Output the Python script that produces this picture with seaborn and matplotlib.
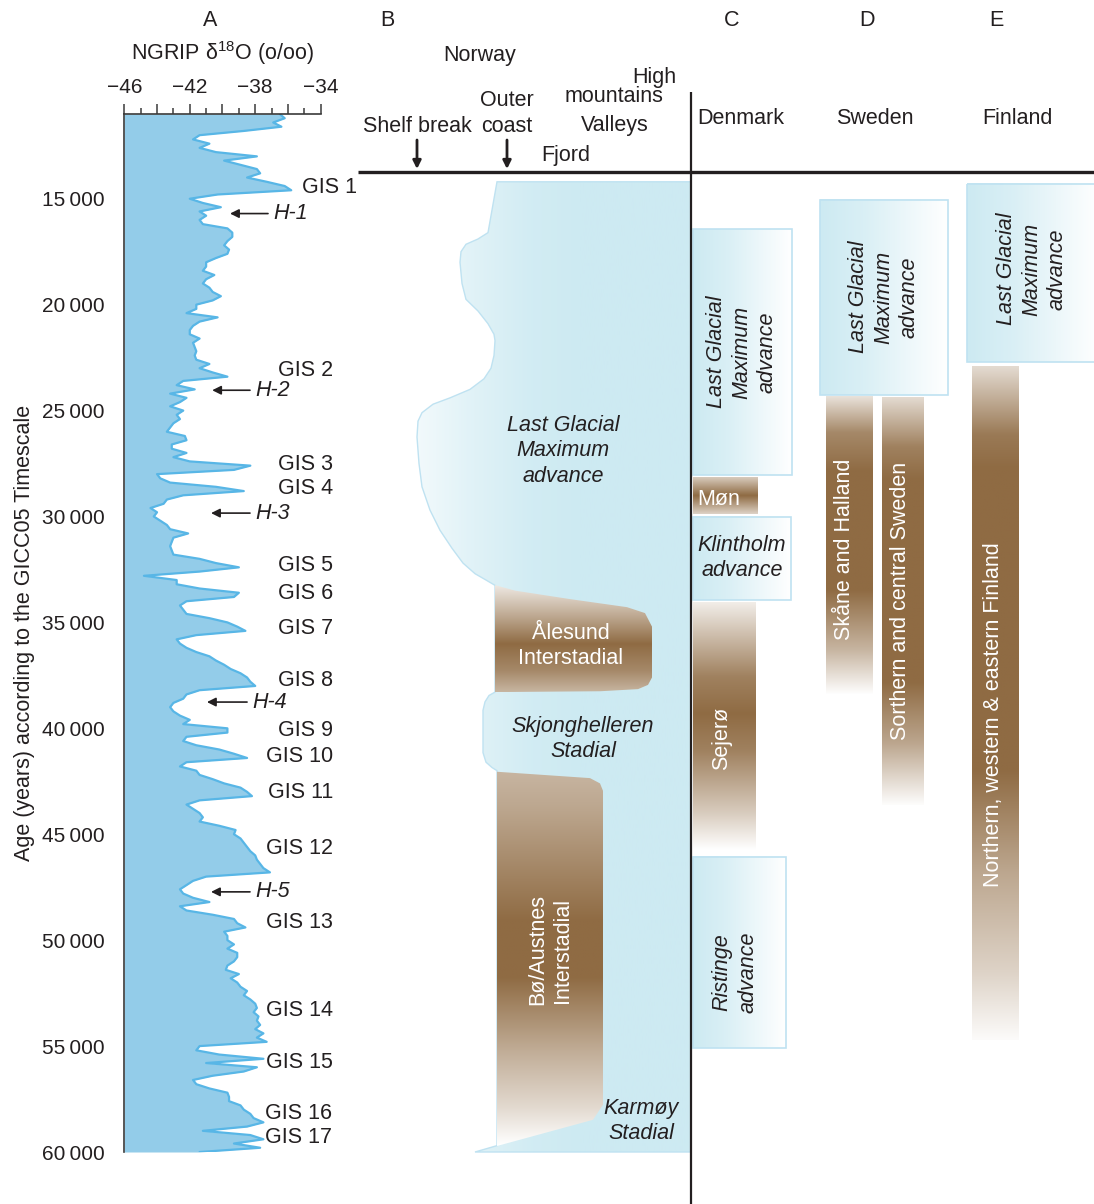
import numpy as np
import pandas as pd
import matplotlib
matplotlib.use("Agg")
import matplotlib.pyplot as plt
import seaborn as sns
from matplotlib.patches import Polygon, Rectangle
from matplotlib.colors import to_rgb
from matplotlib.ticker import FixedLocator, FixedFormatter

sns.set_theme(style="white")
plt.rcParams["font.family"] = ["Liberation Sans", "DejaVu Sans"]
plt.rcParams["mathtext.fontset"] = "custom"
plt.rcParams["mathtext.rm"] = "Liberation Sans"
plt.rcParams["mathtext.it"] = "Liberation Sans:italic"

# ---------------------------------------------------------------- data
# NGRIP d18O (per mil), 200-year samples from 11 000 to 60 000 yr b2k
age_b2k = np.arange(11000, 60001, 200)
d18o = [
    -36.5, -36.2, -36.9, -36.4, -38.7, -41.4, -41.8, -40.8, -41.4, -40.4,
    -37.9, -39.9, -38.9, -37.9, -37.7, -38.5, -37.3, -36.2, -35.8, -40.3,
    -42.0, -41.2, -40.1, -41.4, -41.0, -41.4, -41.2, -39.7, -39.4, -39.4,
    -39.7, -39.9, -39.6, -39.7, -40.4, -41.0, -41.0, -41.2, -40.5, -41.0,
    -41.2, -40.8, -40.6, -40.1, -40.6, -41.6, -41.6, -42.2, -40.3, -41.4,
    -41.8, -42.0, -42.0, -41.4, -41.8, -41.7, -41.6, -41.7, -41.6, -40.8,
    -41.4, -40.6, -39.7, -42.4, -42.8, -41.7, -43.2, -42.2, -42.6, -43.2,
    -42.4, -42.8, -42.6, -43.0, -43.2, -43.4, -42.3, -42.2, -43.1, -43.1,
    -42.2, -43.0, -42.0, -38.3, -39.3, -44.0, -43.8, -43.2, -40.4, -38.7,
    -42.4, -43.4, -43.6, -44.4, -44.0, -44.2, -43.8, -43.4, -43.2, -42.1,
    -43.0, -43.1, -43.2, -43.1, -43.0, -41.4, -40.4, -39.0, -41.4, -44.8,
    -42.8, -42.8, -41.4, -39.0, -39.3, -42.2, -42.6, -42.4, -42.2, -40.8,
    -39.7, -39.1, -38.6, -41.6, -42.8, -42.6, -42.2, -41.6, -40.8, -40.4,
    -39.9, -39.5, -38.9, -38.5, -38.3, -38.0, -41.4, -42.2, -42.4, -43.0,
    -43.2, -43.0, -42.6, -42.0, -42.4, -39.7, -39.7, -42.2, -42.4, -41.6,
    -40.2, -39.3, -38.5, -42.2, -42.6, -41.6, -41.4, -40.6, -39.9, -38.9,
    -38.5, -38.2, -41.4, -42.2, -41.8, -41.4, -41.2, -41.4, -40.2, -39.2,
    -39.3, -38.9, -38.7, -38.5, -38.3, -38.0, -37.9, -37.7, -37.5, -37.1,
    -41.0, -41.8, -42.2, -42.6, -42.4, -41.8, -40.8, -42.6, -42.2, -40.6,
    -39.3, -39.1, -38.6, -39.9, -39.7, -39.7, -39.3, -39.7, -39.1, -39.1,
    -39.3, -39.7, -39.8, -39.0, -39.5, -39.1, -38.9, -38.5, -38.7, -38.3,
    -38.0, -37.9, -38.1, -37.8, -37.9, -37.7, -38.0, -37.5, -37.9, -37.3,
    -41.4, -41.6, -40.2, -37.5, -41.0, -37.9, -38.7, -40.6, -41.8, -41.6,
    -40.8, -39.7, -39.6, -39.6, -38.9, -38.7, -38.3, -38.1, -37.5, -38.5,
    -41.2, -38.3, -37.5, -39.3, -37.7, -41.4,
]

# Greenland interstadials
gis_labels = ["GIS 1", "GIS 2", "GIS 3", "GIS 4", "GIS 5", "GIS 6", "GIS 7",
              "GIS 8", "GIS 9", "GIS 10", "GIS 11", "GIS 12", "GIS 13",
              "GIS 14", "GIS 15", "GIS 16", "GIS 17"]
gis_ages = [14470, 23100, 27530, 28670, 32300, 33620, 35270, 37720, 40080,
            41310, 43050, 45650, 49180, 53340, 55790, 58190, 59330]
gis_label_x = [-31.8] + [-33.25] * 14 + [-33.3, -33.3]

# Heinrich events
heinrich_labels = ["H-1", "H-2", "H-3", "H-4", "H-5"]
heinrich_ages = [15700, 24040, 29840, 38760, 47720]
heinrich_head = [-39.54, -40.63, -40.70, -40.95, -40.70]
heinrich_tail = [-37.22, -38.32, -38.32, -38.50, -38.32]

# Norway transect: ice-margin position (panel units) through time
norway_margin_age = [14200, 16600, 16900, 17150, 17500, 18000, 19000, 19750,
                     20300, 20900, 21400, 21700, 22400, 23000, 23500, 24000,
                     24400, 24700, 25100, 25500, 26250, 27500, 28600, 29700,
                     30650, 31500, 32200, 32700, 33000, 33250, 38290, 38450,
                     38750, 39150, 41150, 41600, 41850, 42000, 59700, 60000]
norway_margin_pos = [497, 488, 478, 466, 461, 460, 462, 466,
                     478, 488, 494, 495, 494, 491, 484, 470,
                     450, 433, 422, 418, 417, 419, 422, 430,
                     440, 452, 463, 475, 486, 495, 495, 489,
                     485, 483, 483, 486, 492, 497, 497, 475]
alesund_age = [33240, 33500, 33900, 34280, 34560, 35200, 37600, 37950, 38150, 38250, 38290]
alesund_pos = [495, 515, 570, 627, 645, 652, 652, 648, 638, 600, 495]
bo_age = [42050, 42350, 42600, 42950, 57770, 58480, 59716]
bo_pos = [497, 590, 600, 603, 603, 593, 497]

# Ice advances in Denmark, Sweden, Finland
adv_labels = ["Last Glacial\nMaximum\nadvance", "Klintholm\nadvance", "Ristinge\nadvance",
              "Last Glacial\nMaximum\nadvance", "Last Glacial\nMaximum\nadvance"]
adv_start = [16430, 30020, 46070, 15060, 14300]
adv_end = [28040, 33940, 55090, 24270, 22710]
adv_left = [693, 693, 693, 820, 967]
adv_right = [792, 791, 786, 948, 1100]
adv_rot = [90, 0, 90, 90, 90]
adv_text_x = [742, 742, 735, 884, 1032]
adv_text_age = [22235, 31959, 51502, 19639, 18317]

# Ice-free intervals (interstadials)
ice_free_labels = ["Møn", "Sejerø", "Skåne and Halland",
                   "Sorthern and central Sweden",
                   "Northern, western & eastern Finland"]
ice_free_start = [28180, 34080, 24360, 24360, 22900]
ice_free_end = [29880, 45740, 38430, 43620, 54710]
ice_free_left = [693, 693, 826, 882, 972]
ice_free_right = [758, 756, 873, 924, 1019]
ice_free_text_x = [697, 722, 845, 901, 994]
ice_free_text_age = [29221, 40456, 31534, 33989, 39371]
ice_free_shading = [
    [(0, 0.35), (0.5, 1.0), (1, 0.3)],
    [(0, 0.12), (0.3, 0.85), (0.45, 1.0), (0.6, 0.85), (0.85, 0.35), (1, 0.0)],
    [(0, 0.2), (0.12, 0.8), (0.25, 1.0), (0.65, 1.0), (0.85, 0.5), (1, 0.0)],
    [(0, 0.25), (0.12, 0.85), (0.2, 1.0), (0.7, 1.0), (0.85, 0.6), (1, 0.02)],
    [(0, 0.25), (0.1, 0.9), (0.15, 1.0), (0.6, 1.0), (0.75, 0.6), (0.9, 0.3), (1, 0.03)],
]

# ---------------------------------------------------------------- styles
TXT = "#231f20"
FILL = "#93cce9"
LINE = "#58b6e6"
WHITE = np.array([1.0, 1.0, 1.0])
BROWN = np.array(to_rgb("#8f6b43"))
ICE = np.array(to_rgb("#cdeaf2"))
ICE_EDGE = "#bfe2f1"
FS = 15.5
LS = 1.28

W, H = 1094, 1204
DPI = 100
fig = plt.figure(figsize=(W / DPI, H / DPI), dpi=DPI)

A_left, A_right, A_top, A_bottom = 124.3, 320.7, 114, 1152
AGE_TOP, AGE_BOTTOM = 11000, 60000
axA = fig.add_axes([A_left / W, 1 - A_bottom / H,
                    (A_right - A_left) / W, (A_bottom - A_top) / H])

# ---------------------------------------------------------------- panel A
df = pd.DataFrame({"age": age_b2k, "d18o": d18o})
axA.fill_betweenx(df["age"], -46, df["d18o"], color=FILL, lw=0, zorder=1)
sns.lineplot(data=df, x="d18o", y="age", orient="y", sort=False,
             estimator=None, color=LINE, lw=1.6, ax=axA, zorder=2)
axA.set_xlim(-46, -34)
axA.set_ylim(AGE_BOTTOM, AGE_TOP)

axA.xaxis.set_ticks_position("top")
axA.xaxis.set_label_position("top")
xmaj = [-46, -44, -42, -40, -38, -36, -34]
axA.xaxis.set_major_locator(FixedLocator(xmaj))
axA.xaxis.set_major_formatter(FixedFormatter(
    [f"\u2212{abs(v)}" if v % 4 == 2 else "" for v in xmaj]))
axA.xaxis.set_minor_locator(FixedLocator(np.arange(-46, -33, 1)))
ymaj = np.arange(15000, 60001, 5000)
axA.yaxis.set_major_locator(FixedLocator(ymaj))
axA.yaxis.set_major_formatter(FixedFormatter([f"{v // 1000}\u2009000" for v in ymaj]))
axA.yaxis.set_minor_locator(FixedLocator(np.arange(11000, 60001, 1000)))
axA.tick_params(axis="x", which="major", direction="out", length=7, width=1.1,
                color="#3a3a3a", labelsize=15, labelcolor=TXT, pad=5.5)
axA.tick_params(axis="x", which="minor", direction="out", length=4, width=1.1,
                color="#3a3a3a")
axA.tick_params(axis="y", which="major", direction="out", length=9, width=1.1,
                color="#3a3a3a", labelsize=15, labelcolor=TXT, pad=5)
axA.tick_params(axis="y", which="minor", direction="out", length=5.5, width=1.1,
                color="#3a3a3a")
for side in ("right", "bottom"):
    axA.spines[side].set_visible(False)
for side in ("left", "top"):
    axA.spines[side].set_color("#3a3a3a")
    axA.spines[side].set_linewidth(1.2)
axA.set_xlabel("")
axA.set_ylabel("Age (years) according to the GICC05 Timescale", fontsize=FS, color=TXT)
axA.yaxis.set_label_coords(-(A_left - 35) / (A_right - A_left), 0.5)

for lab, a, x in zip(gis_labels, gis_ages, gis_label_x):
    axA.text(x, a, lab, ha="right", va="center", fontsize=FS, color=TXT, clip_on=False)
for lab, a, h, t in zip(heinrich_labels, heinrich_ages, heinrich_head, heinrich_tail):
    axA.annotate("", xy=(h, a), xytext=(t, a), annotation_clip=False,
                 arrowprops=dict(arrowstyle="-|>", color=TXT, lw=1.2,
                                 mutation_scale=13, shrinkA=0, shrinkB=0))
    axA.text(t + 0.35, a, lab, ha="left", va="center", fontsize=FS,
             style="italic", color=TXT, clip_on=False)

# ---------------------------------------------------------------- panels B-E
px_per_yr = (A_bottom - A_top) / (AGE_BOTTOM - AGE_TOP)
ax2 = fig.add_axes([358 / W, 0, 1 - 358 / W, 1])
ax2.axis("off")
Y_LIMS = (AGE_BOTTOM + (H - A_bottom) / px_per_yr, AGE_TOP - A_top / px_per_yr)


def vertical_shade(stops, n=256):
    t = np.linspace(0, 1, n)
    s = np.interp(t, [p for p, _ in stops], [v for _, v in stops])
    return (WHITE * (1 - s[:, None]) + BROWN * s[:, None])[:, None, :]


def horizontal_ice(stops, n=256):
    t = np.linspace(0, 1, n)
    s = np.interp(t, [p for p, _ in stops], [v for _, v in stops])
    return (WHITE * (1 - s[:, None]) + ICE * s[:, None])[None, :, :]


def shaded(ax, img, x0, x1, a0, a1, clip=None, z=1):
    im = ax.imshow(img, extent=(x0, x1, a1, a0), origin="upper", aspect="auto",
                   interpolation="bilinear", zorder=z)
    if clip is not None:
        im.set_clip_path(clip)
    return im


# Norway ice sheet
ice_poly = Polygon(list(zip(norway_margin_pos, norway_margin_age)) + [(691, 60000), (691, 14200)],
                   closed=True, facecolor="none", edgecolor=ICE_EDGE, lw=1.0, zorder=2)
ax2.add_patch(ice_poly)
shaded(ax2, horizontal_ice([(0, 0.25), (0.2, 0.6), (0.42, 0.9), (0.6, 1.0), (1, 1.0)]),
       415, 691, 14200, 60000, clip=ice_poly, z=1)

ales_poly = Polygon(list(zip(alesund_pos, alesund_age)), closed=True,
                    facecolor="none", edgecolor="none", zorder=3)
ax2.add_patch(ales_poly)
shaded(ax2, vertical_shade([(0, 0.15), (0.3, 0.6), (0.55, 1.0), (0.8, 0.8), (1, 0.5)]),
       495, 652, min(alesund_age), max(alesund_age), clip=ales_poly, z=3)

bo_poly = Polygon(list(zip(bo_pos, bo_age)), closed=True,
                  facecolor="none", edgecolor="none", zorder=3)
ax2.add_patch(bo_poly)
shaded(ax2, vertical_shade([(0, 0.5), (0.1, 0.6), (0.4, 1.0), (0.55, 1.0), (0.75, 0.55),
                            (0.9, 0.25), (1, 0.0)]),
       497, 603, min(bo_age), max(bo_age), clip=bo_poly, z=3)

ax2.text(563, 26908, "Last Glacial\nMaximum\nadvance", ha="center", va="center",
         fontsize=FS, style="italic", color=TXT, linespacing=LS, zorder=5)
ax2.text(571, 36113, "Ålesund\nInterstadial", ha="center", va="center",
         fontsize=FS, color="white", linespacing=LS, zorder=5)
ax2.text(583, 40504, "Skjonghelleren\nStadial", ha="center", va="center",
         fontsize=FS, style="italic", color=TXT, linespacing=LS, zorder=5)
ax2.text(550, 50464, "Bø/Austnes\nInterstadial", ha="center", va="center",
         rotation=90, rotation_mode="anchor", fontsize=FS, color="white",
         linespacing=LS, zorder=5)
ax2.text(641, 58536, "Karmøy\nStadial", ha="center", va="center",
         fontsize=FS, style="italic", color=TXT, linespacing=LS, zorder=5)

# ice advances
for lab, a0, a1, x0, x1, rot, tx, ta in zip(adv_labels, adv_start, adv_end, adv_left,
                                            adv_right, adv_rot, adv_text_x, adv_text_age):
    shaded(ax2, horizontal_ice([(0, 1.0), (0.35, 0.75), (1, 0.0)]), x0, x1, a0, a1, z=2)
    ax2.add_patch(Rectangle((x0, a0), x1 - x0, a1 - a0, facecolor="none",
                            edgecolor=ICE_EDGE, lw=1.2, zorder=3))
    ax2.text(tx, ta, lab, ha="center", va="center", rotation=rot, rotation_mode="anchor",
             fontsize=FS, style="italic", color=TXT, linespacing=LS, zorder=5)

# ice-free intervals
for lab, a0, a1, x0, x1, tx, ta, st in zip(ice_free_labels, ice_free_start, ice_free_end,
                                           ice_free_left, ice_free_right, ice_free_text_x,
                                           ice_free_text_age, ice_free_shading):
    shaded(ax2, vertical_shade(st), x0, x1, a0, a1, z=2)
    if lab == "Møn":
        ax2.text(tx, ta, lab, ha="left", va="center", fontsize=FS, color="white", zorder=5)
    else:
        ax2.text(tx, ta, lab, ha="center", va="center", rotation=90, rotation_mode="anchor",
                 fontsize=FS, color="white", zorder=5)

ax2.set_xlim(358, W)
ax2.set_ylim(*Y_LIMS)

# ---------------------------------------------------------------- headings
hdr = fig.add_axes([0, 0, 1, 1])
hdr.set_xlim(0, W)
hdr.set_ylim(H, 0)
hdr.axis("off")
hdr.patch.set_alpha(0)

hdr.plot([358, W], [172, 172], color=TXT, lw=2.4, solid_capstyle="butt")
hdr.plot([691, 691], [92, H], color=TXT, lw=1.6, solid_capstyle="butt")
for x in (417, 507):
    hdr.annotate("", xy=(x, 169), xytext=(x, 140),
                 arrowprops=dict(arrowstyle="-|>", color=TXT, lw=2.0,
                                 mutation_scale=12, shrinkA=0, shrinkB=0))

headings = [
    ("A", 210, 20), ("B", 387, 20), ("C", 732, 20), ("D", 867, 20), ("E", 996, 20),
    ("Norway", 480, 55), ("High", 654, 77), ("mountains", 614, 97),
    ("Outer", 507, 101), ("coast", 507, 126), ("Shelf break", 417, 126),
    ("Valleys", 615, 126), ("Fjord", 566, 155),
    ("Denmark", 741, 118), ("Sweden", 875, 118), ("Finland", 1017, 118),
]
for lab, x, y in headings:
    hdr.text(x, y, lab, ha="center", va="center", fontsize=FS, color=TXT)
hdr.text(223, 53, r"NGRIP $\mathrm{\delta}^{18}$O (o/oo)", ha="center", va="center",
         fontsize=FS, color=TXT)

fig.savefig("out.png", dpi=DPI)
